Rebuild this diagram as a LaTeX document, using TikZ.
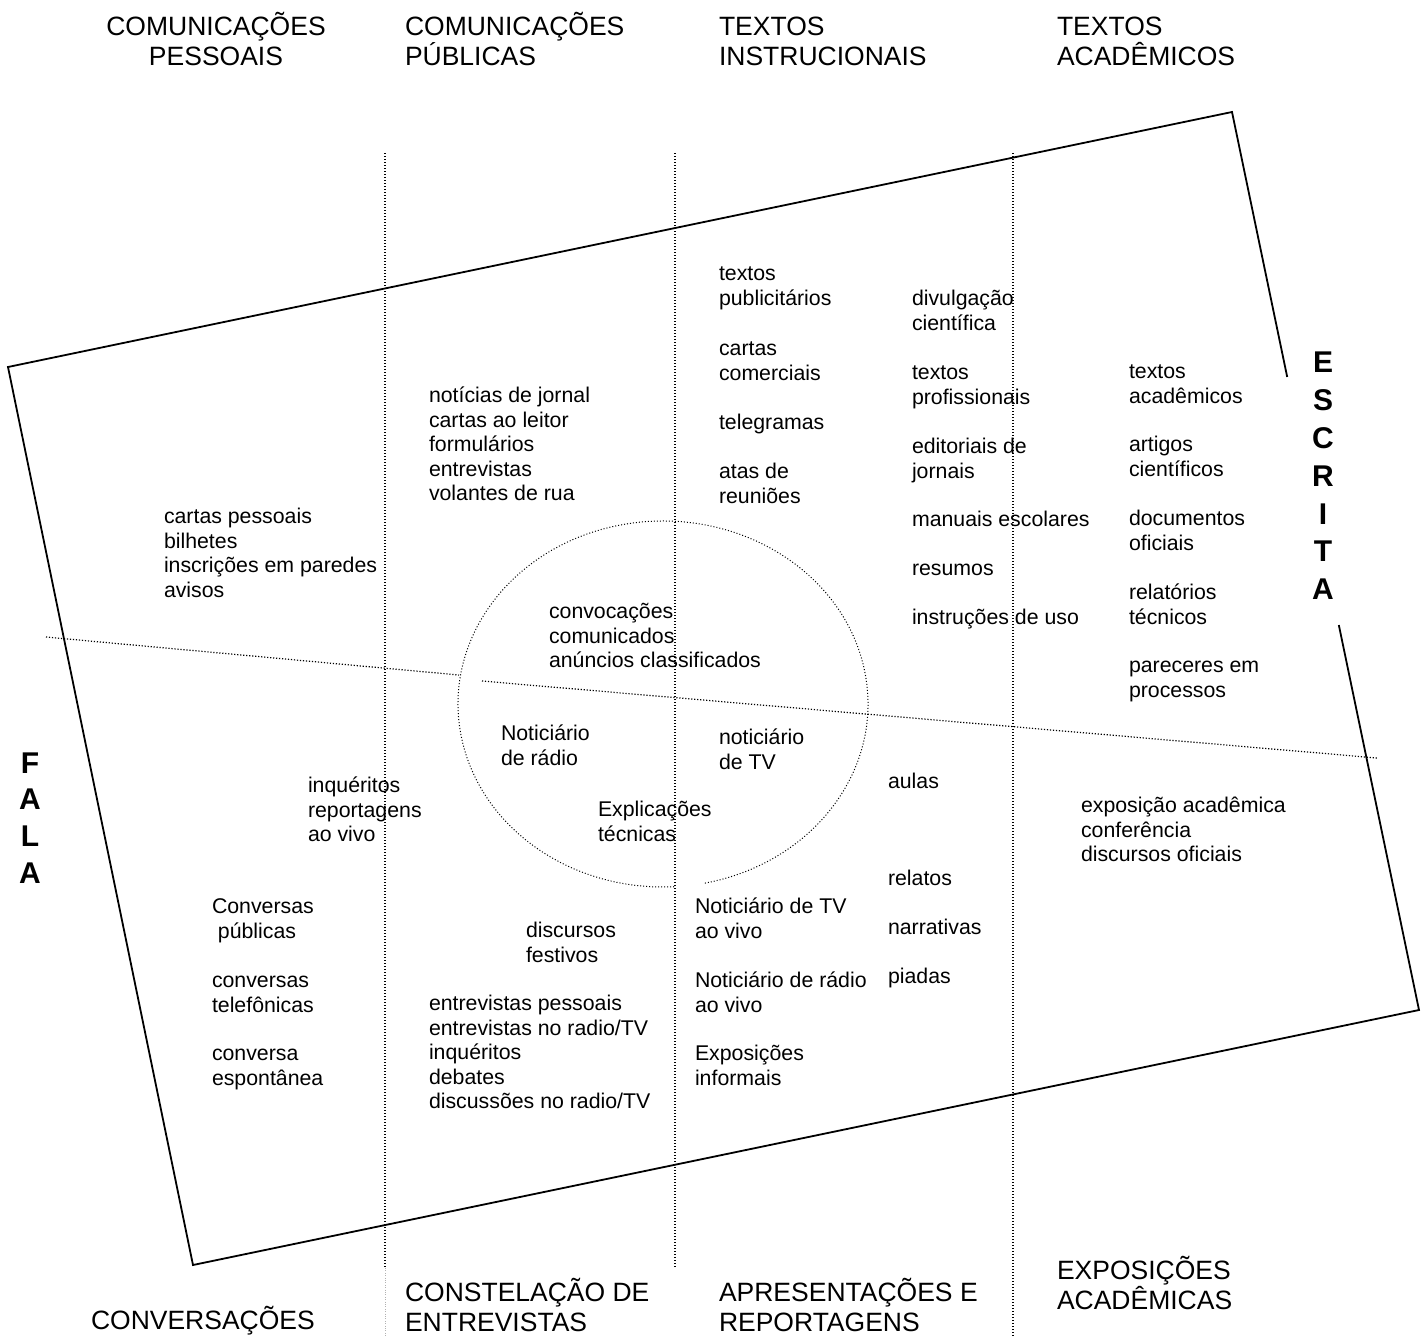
\documentclass[tikz,border=0pt]{standalone}
\usepackage{fontspec}
\setmainfont{Liberation Sans}
\newcommand\bodyfs{\fontsize{21.3}{24.6}\selectfont}
\newcommand\headfs{\fontsize{26.5}{30}\selectfont}
\newcommand\sidefs{\fontsize{30}{37.8}\selectfont\bfseries}
\newcommand\sidefsb{\fontsize{30}{36.7}\selectfont\bfseries}
\newcommand\fl[1]{\strut\smash{#1}}
\begin{document}
\begin{tikzpicture}[x=1pt,y=-1pt,
  body/.style={anchor=north west, inner sep=0pt, outer sep=0pt, align=left, font=\bodyfs},
  head/.style={anchor=north west, inner sep=0pt, outer sep=0pt, align=left, font=\headfs},
  side/.style={anchor=north, inner sep=0pt, outer sep=0pt, align=center},
  divider/.style={line width=1.2pt, dash pattern=on 1.2pt off 1.8pt},
  faintdiv/.style={line width=0.8pt, gray!60, dash pattern=on 0.8pt off 1.6pt},
  ovalline/.style={line width=1pt, dash pattern=on 1pt off 2pt},
  frame/.style={line width=1.8pt, line join=miter}]
\useasboundingbox (0,0) rectangle (1421,1336);

% frame corners
\coordinate (TL) at (8,367);
\coordinate (TR) at (1232,112);
\coordinate (BR) at (1419,1010);
\coordinate (BL) at (193,1265);
\coordinate (G1) at (1287.2,377);
\coordinate (G2) at (1338.8,625);
\draw[frame] (G2) -- (BR) -- (BL) -- (TL) -- (TR) -- (G1);

% vertical dividers
\coordinate (v1t) at (385,153); \coordinate (v1b) at (385,1268); \coordinate (v1e) at (385,1336);
\coordinate (v2t) at (675,153); \coordinate (v2b) at (675,1268);
\coordinate (v3t) at (1013,153); \coordinate (v3b) at (1013,1336);
\draw[divider] (v1t) -- (v1b);
\draw[faintdiv] (v1b) -- (v1e);
\draw[divider] (v2t) -- (v2b);
\draw[divider] (v3t) -- (v3b);

% horizontal divider
\coordinate (h1a) at (46,637); \coordinate (h1b) at (459,675);
\coordinate (h2a) at (482,681); \coordinate (h2b) at (1377,758);
\draw[divider] (h1a) -- (h1b);
\draw[divider] (h2a) -- (h2b);

% central oval
\coordinate (ec) at (663,704);
\draw[ovalline] (ec) ++(281.8:205pt and 183pt) arc[start angle=281.8, end angle=633.4, x radius=205pt, y radius=183pt];

% headers top
\node[head, anchor=north, align=center] (hcp) at (216,14) {\fl{COMUNICAÇÕES}\\\fl{PESSOAIS}};
\node[head] (hcpu) at (405,14) {\fl{COMUNICAÇÕES}\\\fl{PÚBLICAS}};
\node[head] (hti) at (719,14) {\fl{TEXTOS}\\\fl{INSTRUCIONAIS}};
\node[head] (hta) at (1057,14) {\fl{TEXTOS}\\\fl{ACADÊMICOS}};
% headers bottom
\node[head] (bcv) at (91,1308.5) {\fl{CONVERSAÇÕES}};
\node[head] (bce) at (405,1280.5) {\fl{CONSTELAÇÃO DE}\\\fl{ENTREVISTAS}};
\node[head] (bar) at (719,1280.5) {\fl{APRESENTAÇÕES E}\\\fl{REPORTAGENS}};
\node[head] (bea) at (1057,1258) {\fl{EXPOSIÇÕES}\\\fl{ACADÊMICAS}};

% side labels
\node[side, font=\sidefs] (escrita) at (1323,346.5) {\strut E\\S\\C\\R\\I\\T\\A};
\node[side, font=\sidefsb] (fala) at (30,747.3) {\strut F\\A\\L\\A};

% body texts
\node[body] (cp) at (164,506.3) {\strut cartas pessoais\\bilhetes\\inscrições em paredes\\avisos};
\node[body] (nj) at (429,385.3) {\strut notícias de jornal\\cartas ao leitor\\formulários\\entrevistas\\volantes de rua};
\node[body] (tp) at (719,263.3) {\strut textos\\publicitários};
\node[body] (cc) at (719,338.3) {\strut cartas\\comerciais};
\node[body] (tg) at (719,412.3) {\strut telegramas};
\node[body] (ar) at (719,461.3) {\strut atas de\\reuniões};
\node[body] (dc) at (912,288.3) {\strut divulgação\\científica};
\node[body] (tpr) at (912,362.3) {\strut textos\\profissionais};
\node[body] (ej) at (912,436.3) {\strut editoriais de\\jornais};
\node[body] (me) at (912,509.3) {\strut manuais escolares};
\node[body] (rs) at (912,558.3) {\strut resumos};
\node[body] (iu) at (912,607.3) {\strut instruções de uso};
\node[body] (ta) at (1129,361.3) {\strut textos\\acadêmicos};
\node[body] (ac) at (1129,434.3) {\strut artigos\\científicos};
\node[body] (do) at (1129,508.3) {\strut documentos\\oficiais};
\node[body] (rt) at (1129,582.3) {\strut relatórios\\técnicos};
\node[body] (pp) at (1129,655.3) {\strut pareceres em\\processos};
\node[body] (cv) at (549,601.3) {\strut convocações\\comunicados\\anúncios classificados};
\node[body] (nr) at (501,723.3) {\strut Noticiário\\de rádio};
\node[body] (ntv) at (719,727.3) {\strut noticiário\\de TV};
\node[body] (et) at (598,799.3) {\strut Explicações\\técnicas};
\node[body] (ir) at (308,775.3) {\strut inquéritos\\reportagens\\ao vivo};
\node[body] (au) at (888,771.3) {\strut aulas};
\node[body] (ea) at (1081,795.3) {\strut exposição acadêmica\\conferência\\discursos oficiais};
\node[body] (rl) at (888,868.3) {\strut relatos};
\node[body] (na) at (888,917.3) {\strut narrativas};
\node[body] (pi) at (888,966.3) {\strut piadas};
\node[body] (cpu) at (212,896.3) {\strut Conversas\\\hspace*{0.28em}públicas};
\node[body] (ct) at (212,970.3) {\strut conversas\\telefônicas};
\node[body] (ce) at (212,1043.3) {\strut conversa\\espontânea};
\node[body] (df) at (526,920.3) {\strut discursos\\festivos};
\node[body] (ntvv) at (695,896.3) {\strut Noticiário de TV\\ao vivo};
\node[body] (nrv) at (695,970.3) {\strut Noticiário de rádio\\ao vivo};
\node[body] (ei) at (695,1043.3) {\strut Exposições\\informais};
\node[body] (ep) at (429,993.3) {\strut entrevistas pessoais\\entrevistas no radio/TV\\inquéritos\\debates\\discussões no radio/TV};
\end{tikzpicture}
\end{document}
